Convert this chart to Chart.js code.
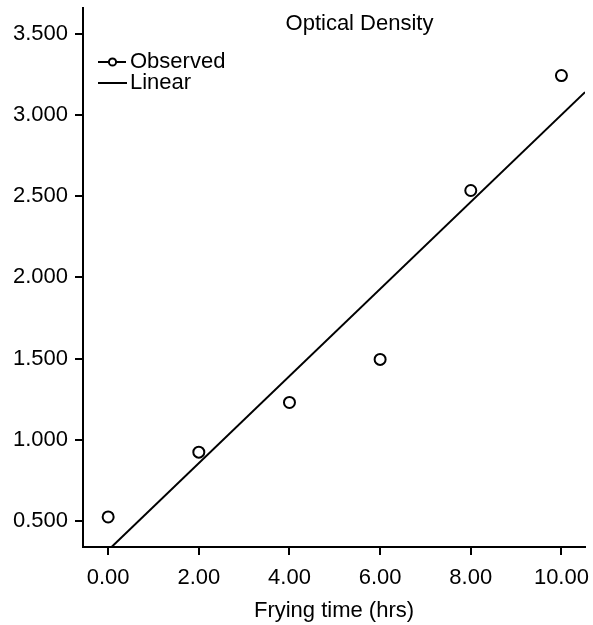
<!DOCTYPE html>
<html><head><meta charset="utf-8">
<script src="https://cdn.jsdelivr.net/npm/chart.js@4/dist/chart.umd.min.js"></script>
<style>html,body{margin:0;padding:0;background:#fff}#wrap{width:593px;height:625px;position:relative}</style>
</head><body><div id="wrap"><canvas id="c"></canvas></div>
<script>
// ---- data ----
const chartTitle = "Optical Density";
const xAxisTitle = "Frying time (hrs)";
const timeHrs = [0, 2, 4, 6, 8, 10];
const observed = [0.525, 0.924, 1.23, 1.495, 2.535, 3.243];
const linearX = [0, 10.52];
const linearY = [0.32, 3.141];
const xTicks = [0, 2, 4, 6, 8, 10];
const yTicks = [0.5, 1.0, 1.5, 2.0, 2.5, 3.0, 3.5];

const FONT = '"Liberation Sans", Arial, Helvetica, sans-serif';
const FS = 22;

const overlay = {
  id: 'overlay',
  afterDraw(chart) {
    const ctx = chart.ctx;
    const ds = chart.data.datasets;
    ctx.save();
    ctx.fillStyle = '#000';
    ctx.strokeStyle = '#000';
    ctx.font = FS + 'px ' + FONT;
    ctx.textBaseline = 'middle';
    ctx.textAlign = 'center';
    ctx.fillText(chartTitle, 359.5, 24);
    ctx.textAlign = 'left';
    // legend row 1 (Observed)
    ctx.lineWidth = 2;
    ctx.beginPath(); ctx.moveTo(98, 62); ctx.lineTo(126, 62); ctx.stroke();
    ctx.beginPath(); ctx.arc(112.5, 62, 3.6, 0, Math.PI * 2);
    ctx.fillStyle = '#fff'; ctx.fill(); ctx.stroke();
    ctx.fillStyle = '#000';
    ctx.fillText(ds[0].label, 130, 62);
    // legend row 2 (Linear)
    ctx.beginPath(); ctx.moveTo(98, 83); ctx.lineTo(127, 83); ctx.stroke();
    ctx.fillText(ds[1].label, 130, 83);
    ctx.restore();
  }
};

new Chart(document.getElementById('c'), {
  type: 'scatter',
  data: {
    datasets: [
      {
        label: 'Observed',
        data: timeHrs.map((x, i) => ({x: x, y: observed[i]})),
        showLine: false,
        pointRadius: 5.5,
        pointHoverRadius: 5.5,
        pointBorderWidth: 2,
        pointBorderColor: '#000',
        pointBackgroundColor: 'rgba(255,255,255,0)',
        order: 0
      },
      {
        label: 'Linear',
        data: linearX.map((x, i) => ({x: x, y: linearY[i]})),
        showLine: true,
        borderColor: '#000',
        borderWidth: 2,
        pointRadius: 0,
        fill: false,
        order: 1
      }
    ]
  },
  options: {
    responsive: true,
    maintainAspectRatio: false,
    animation: false,
    devicePixelRatio: 1,
    layout: { padding: { top: 7, right: 8, left: 0, bottom: 0 } },
    plugins: { legend: { display: false }, title: { display: false }, tooltip: { enabled: false } },
    scales: {
      x: {
        type: 'linear',
        min: -0.555,
        max: 10.52,
        afterFit(s) { s.height = 78; s.paddingLeft = 0; s.paddingRight = 0; },
        afterBuildTicks(s) { s.ticks = xTicks.map(v => ({value: v})); },
        ticks: {
          color: '#000',
          font: { family: FONT, size: FS },
          padding: 10,
          maxRotation: 0,
          autoSkip: false,
          callback: v => Number(v).toFixed(2)
        },
        grid: { drawOnChartArea: false, drawTicks: true, tickLength: 8, color: '#000', lineWidth: 2 },
        border: { display: true, color: '#000', width: 2 },
        title: {
          display: true, text: xAxisTitle, color: '#000',
          font: { family: FONT, size: FS }, padding: { top: 0, bottom: 1 }
        }
      },
      y: {
        type: 'linear',
        min: 0.34,
        max: 3.662,
        afterFit(s) { s.width = 83; s.paddingTop = 0; s.paddingBottom = 0; },
        afterBuildTicks(s) { s.ticks = yTicks.map(v => ({value: v})); },
        ticks: {
          color: '#000',
          font: { family: FONT, size: FS },
          padding: 7,
          autoSkip: false,
          callback: v => Number(v).toFixed(3)
        },
        grid: { drawOnChartArea: false, drawTicks: true, tickLength: 8, color: '#000', lineWidth: 2 },
        border: { display: true, color: '#000', width: 2 }
      }
    }
  },
  plugins: [overlay]
});
</script>
</body></html>
